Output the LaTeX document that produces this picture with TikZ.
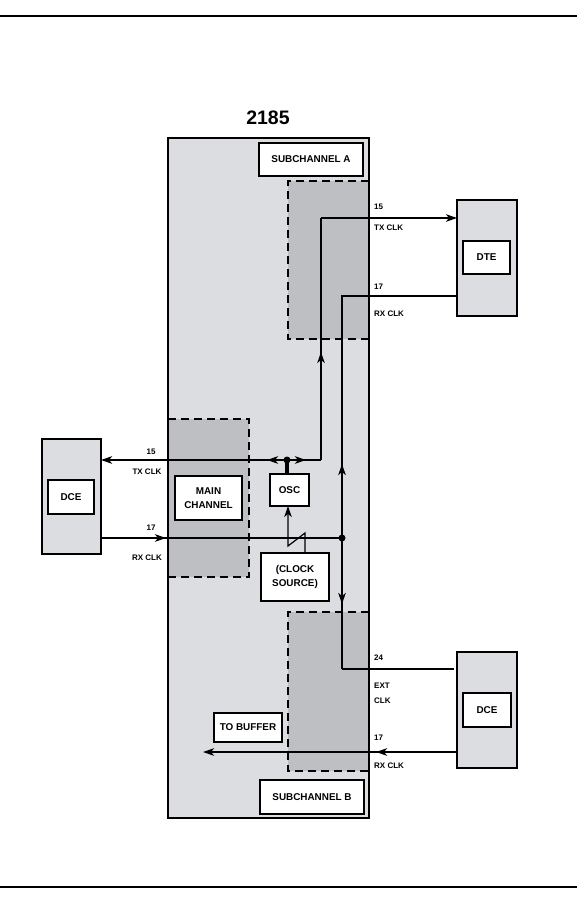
\documentclass[tikz,border=0pt]{standalone}
\usepackage{fontspec}
\setmainfont{Liberation Sans}
\usetikzlibrary{arrows.meta}
\definecolor{lightpanel}{RGB}{220,221,224}
\definecolor{darkpanel}{RGB}{190,191,195}
\begin{document}
\begin{tikzpicture}[x=1pt,y=-1pt,
  sz/.style 2 args={minimum width=#1, minimum height=#2},
  panelfill/.style={fill=lightpanel, anchor=north west, inner sep=0pt, outer sep=0pt},
  darkreg/.style={fill=darkpanel, anchor=north west, inner sep=0pt, outer sep=0pt},
  dashline/.style={line width=1.6pt, dash pattern=on 8pt off 5pt},
  devbox/.style={draw, line width=1.5pt, fill=lightpanel, anchor=north west, inner sep=0pt, outer sep=0pt},
  wbox/.style={draw, line width=2pt, fill=white, inner sep=0pt, outer sep=0pt, align=center,
    font=\fontsize{9.9}{14}\selectfont\bfseries},
  lbl/.style={inner sep=0pt, font=\fontsize{8}{9}\selectfont\bfseries},
  mainline/.style={line width=2pt},
  thinline/.style={line width=1.2pt},
  tip/.style={-{Stealth[length=11pt,width=7.5pt,inset=3pt]}},
]
\useasboundingbox (0,0) rectangle (577,907);
% page rules
\coordinate (rt1) at (0,16); \coordinate (rt2) at (577,16);
\coordinate (rb1) at (0,887); \coordinate (rb2) at (577,887);
\draw[line width=1.5pt] (rt1) -- (rt2);
\draw[line width=1.5pt] (rb1) -- (rb2);

% title
\node[font=\fontsize{19.5}{22}\selectfont\bfseries] (title) at (268,118) {2185};

% main unit
\node[panelfill, sz={201pt}{680pt}] (main) at (168,138) {};
\node[darkreg, sz={81pt}{158pt}] (subA) at (288,181) {};
\node[darkreg, sz={81pt}{158pt}] (mainch) at (168,419) {};
\node[darkreg, sz={81pt}{159pt}] (subB) at (288,612) {};
\draw[dashline] (subA.north east) -- (subA.north west) -- (subA.south west) -- (subA.south east);
\draw[dashline] (mainch.north west) -- (mainch.north east) -- (mainch.south east) -- (mainch.south west);
\draw[dashline] (subB.north east) -- (subB.north west) -- (subB.south west) -- (subB.south east);
\draw[line width=2pt] (main.north west) rectangle (main.south east);

% external devices
\node[devbox, sz={60pt}{116pt}] (dte) at (457,200) {};
\node[devbox, sz={59pt}{115pt}] (dceL) at (42,439) {};
\node[devbox, sz={60pt}{116pt}] (dceR) at (457,652) {};

% junction coordinates
\coordinate (txA) at (321,218);
\coordinate (txcorner) at (321,460);
\coordinate (txup) at (321,352);
\coordinate (oscdot) at (287,460);
\coordinate (oscL) at (267,460);
\coordinate (oscR) at (306,460);
\coordinate (rxA) at (342,296);
\coordinate (rxdot) at (342,538);
\coordinate (rxup) at (342,464);
\coordinate (rxdown) at (342,604);
\coordinate (extc) at (342,669);
\coordinate (rxLarr) at (166,538);
\coordinate (bufend) at (203,752);
\coordinate (rxBarr) at (376,752);
\coordinate (sw1) at (305,533);
\coordinate (sw2) at (288,546);

% inner boxes
\node[wbox, sz={47pt}{33pt}] (dtein) at (486.5,257) {DTE};
\node[wbox, sz={46pt}{34pt}] (dceLin) at (71,497) {DCE};
\node[wbox, sz={48pt}{34pt}] (dceRin) at (487,710) {DCE};

% connectors: subchannel A TX
\draw[mainline, tip] (txA) -- (txA -| dte.west);
\draw[thinline] (txA) -- (txcorner);
\draw[thinline, tip] (txcorner) -- (txup);
\draw[mainline, tip] (txcorner) -- (txcorner -| dceL.east);
\draw[mainline, tip] (oscdot) -- (oscL);
\draw[mainline, tip] (oscdot) -- (oscR);

% RX A / EXT CLK
\draw[mainline] (dte.west |- rxA) -- (rxA) -- (extc);
\draw[mainline, shorten >=3pt] (extc) -- (extc -| dceR.west);
\draw[mainline, tip] (rxdot) -- (rxup);
\draw[mainline, tip] (rxdot) -- (rxdown);

% main RX
\draw[mainline] (dceL.east |- rxdot) -- (rxdot);
\draw[mainline, tip] (dceL.east |- rxdot) -- (rxLarr);

% subchannel B RX
\draw[mainline, tip] (dceR.west |- bufend) -- (bufend);
\draw[mainline, tip] (dceR.west |- bufend) -- (rxBarr);

% boxes inside unit
\node[wbox, sz={104pt}{33pt}] (subAlbl) at (311,159.5) {SUBCHANNEL A};
\node[wbox, sz={104pt}{34pt}] (subBlbl) at (312,797) {SUBCHANNEL B};
\node[wbox, sz={67pt}{44pt}] (mcbox) at (208.5,498) {MAIN\\CHANNEL};
\node[wbox, sz={39pt}{32pt}] (osc) at (289.5,490) {OSC};
\node[wbox, sz={68pt}{48pt}] (clk) at (295,577) {(CLOCK\\SOURCE)};
\node[wbox, sz={68pt}{29pt}] (buf) at (248,727) {TO BUFFER};

% OSC connections
\draw[line width=4pt] (oscdot) -- (oscdot |- osc.north);
\draw[thinline, tip] (clk.north -| sw1) -- (sw1) -- (sw2) -- (sw2 |- osc.south);

% dots
\fill (oscdot) circle (3.5pt);
\fill (rxdot) circle (3.5pt);

% labels right
\node[lbl, anchor=west] (a15) at (374,207) {15};
\node[lbl, anchor=west] (atx) at (374,228) {TX CLK};
\node[lbl, anchor=west] (a17) at (374,287) {17};
\node[lbl, anchor=west] (arx) at (374,314) {RX CLK};
\node[lbl, anchor=west] (b24) at (374,658) {24};
\node[lbl, anchor=west] (bext) at (374,686) {EXT};
\node[lbl, anchor=west] (bclk) at (374,701) {CLK};
\node[lbl, anchor=west] (b17) at (374,738) {17};
\node[lbl, anchor=west] (brx) at (374,766) {RX CLK};
% labels left
\node[lbl] (l15) at (151,452) {15};
\node[lbl] (ltx) at (147,472) {TX CLK};
\node[lbl] (l17) at (151,528) {17};
\node[lbl] (lrx) at (147,558) {RX CLK};
\end{tikzpicture}
\end{document}
